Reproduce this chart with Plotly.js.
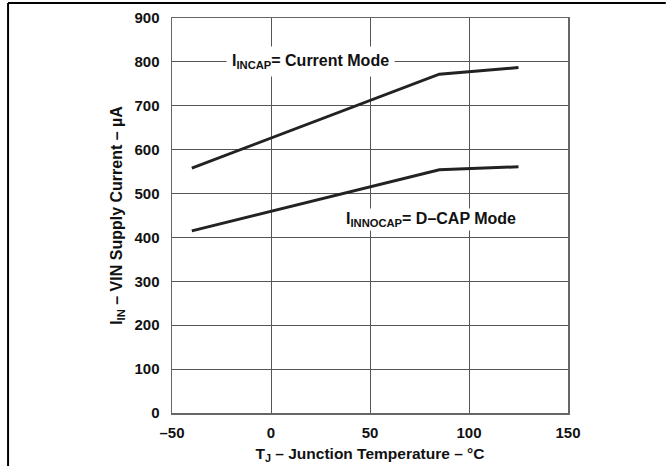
<!DOCTYPE html>
<html>
<head>
<meta charset="utf-8">
<script src="https://cdn.plot.ly/plotly-3.0.1.min.js"></script>
<style>html,body{margin:0;padding:0;background:#fff;}</style>
</head>
<body>
<div id="chart" style="width:671px;height:466px;"></div>
<script>
var temps = [-40, 85, 125];
var incap = [558, 772, 787];
var innocap = [415, 554, 561];
var xTickVals = [-50, 0, 50, 100, 150];
var xTickText = ['–50', '0', '50', '100', '150'];
var yTickVals = [0, 100, 200, 300, 400, 500, 600, 700, 800, 900];

var lineStyle = {color: '#222', width: 3};
var traces = [
  {x: temps, y: incap, mode: 'lines', line: lineStyle, hoverinfo: 'skip', showlegend: false},
  {x: temps, y: innocap, mode: 'lines', line: lineStyle, hoverinfo: 'skip', showlegend: false}
];

var FAM = 'Liberation Sans, Arial, sans-serif';
var layout = {
  width: 671, height: 466,
  margin: {l: 172, r: 103, t: 18, b: 53},
  paper_bgcolor: '#fff', plot_bgcolor: '#fff',
  font: {family: FAM, size: 15, color: '#111'},
  xaxis: {
    range: [-50, 150], tickvals: xTickVals, ticktext: xTickText,
    showgrid: true, gridcolor: '#555', gridwidth: 1,
    showline: true, linecolor: '#666', linewidth: 1.5, mirror: true,
    zeroline: false, ticks: '', ticklabelstandoff: 5,
    tickfont: {family: FAM, size: 15, color: '#111', weight: 'bold'},
    title: {text: 'T<sub>J</sub> – Junction Temperature – °C', standoff: 8,
      font: {family: FAM, size: 15.5, color: '#111', weight: 'bold'}}
  },
  yaxis: {
    range: [0, 900], tickvals: yTickVals,
    showgrid: true, gridcolor: '#555', gridwidth: 1,
    showline: true, linecolor: '#666', linewidth: 1.5, mirror: true,
    zeroline: false, ticks: '', ticklabelstandoff: 8,
    tickfont: {family: FAM, size: 15, color: '#111', weight: 'bold'},
    title: {text: 'I<sub>IN</sub> – VIN Supply Current – µA', standoff: 8,
      font: {family: FAM, size: 16, color: '#111', weight: 'bold'}}
  },
  annotations: [
    {x: 20, y: 800, xref: 'x', yref: 'y', showarrow: false,
     text: 'I<sub>INCAP</sub>= Current Mode', bgcolor: '#fff', borderpad: 5,
     font: {family: FAM, size: 16, color: '#111', weight: 'bold'}},
    {x: 81, y: 442, xref: 'x', yref: 'y', showarrow: false,
     text: 'I<sub>INNOCAP</sub>= D–CAP Mode', bgcolor: '#fff', borderpad: 1,
     font: {family: FAM, size: 16, color: '#111', weight: 'bold'}}
  ],
  shapes: [
    {type: 'line', xref: 'paper', yref: 'paper', x0: -0.414, x1: 1.247, y0: 1.038, y1: 1.038,
     line: {color: '#000', width: 2}},
    {type: 'line', xref: 'paper', yref: 'paper', x0: -0.414, x1: -0.414, y0: 1.038, y1: -0.14,
     line: {color: '#000', width: 2}}
  ]
};

Plotly.newPlot('chart', traces, layout, {staticPlot: true, displayModeBar: false});
</script>
</body>
</html>
